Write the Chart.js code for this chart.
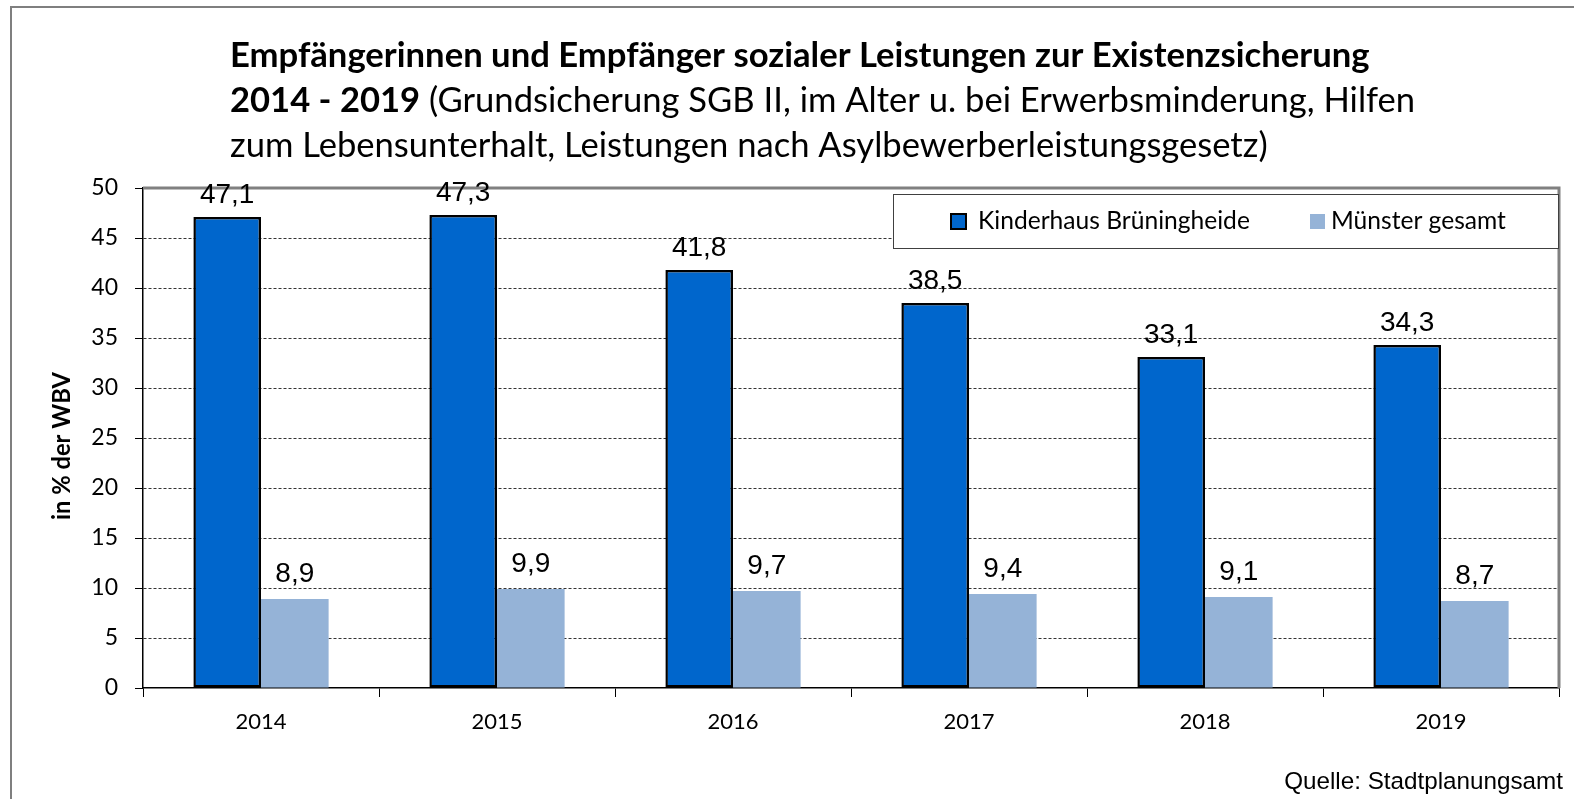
<!DOCTYPE html>
<html>
<head>
<meta charset="utf-8">
<script src="https://cdn.jsdelivr.net/npm/chart.js@4.4.1/dist/chart.umd.min.js"></script>
<style>
  html, body { margin: 0; padding: 0; background: #fff; }
  canvas { display: block; }
</style>
</head>
<body>
<canvas id="chart" width="1574" height="799"></canvas>
<script>
// data
const years = ['2014', '2015', '2016', '2017', '2018', '2019'];
const kinderhaus = [47.1, 47.3, 41.8, 38.5, 33.1, 34.3];
const muenster = [8.9, 9.9, 9.7, 9.4, 9.1, 8.7];
const seriesNames = ['Kinderhaus Brüningheide', 'Münster gesamt'];
const titleLine1 = 'Empfängerinnen und Empfänger sozialer Leistungen zur Existenzsicherung';
const titleLine2Bold = '2014 - 2019';
const titleLine2 = ' (Grundsicherung SGB II, im Alter u. bei Erwerbsminderung, Hilfen';
const titleLine3 = 'zum Lebensunterhalt, Leistungen nach Asylbewerberleistungsgesetz)';
const yTitle = 'in % der WBV';
const source = 'Quelle: Stadtplanungsamt';

const CAL = 'Lato, "Open Sans", sans-serif';
const ARIAL = '"Liberation Sans", Arial, sans-serif';

function fitSize(ctx, text, weight, family, width) {
  ctx.font = weight + ' 100px ' + family;
  return 100 * width / ctx.measureText(text).width;
}

var deco = {
  id: 'deco',
  beforeDraw: function(chart) {
    var ctx = chart.ctx;
    ctx.save();
    ctx.fillStyle = '#fff';
    ctx.fillRect(0, 0, chart.width, chart.height);
    // outer frame (only top and left visible)
    ctx.strokeStyle = '#7f7f7f';
    ctx.lineWidth = 2;
    ctx.beginPath();
    ctx.moveTo(1574, 7); ctx.lineTo(11, 7); ctx.lineTo(11, 799);
    ctx.stroke();

    // title
    ctx.fillStyle = '#000';
    ctx.textBaseline = 'alphabetic';
    ctx.textAlign = 'left';
    var s1 = fitSize(ctx, titleLine1, 'bold', CAL, 1140);
    ctx.font = 'bold ' + s1 + 'px ' + CAL;
    ctx.fillText(titleLine1, 230, 67);
    var s3 = fitSize(ctx, titleLine3, 'normal', CAL, 1038);
    ctx.font = 'bold ' + s3 + 'px ' + CAL;
    ctx.fillText(titleLine2Bold, 230, 112);
    var w = ctx.measureText(titleLine2Bold).width;
    ctx.font = 'normal ' + s3 + 'px ' + CAL;
    ctx.fillText(titleLine2, 230 + w, 112);
    ctx.fillText(titleLine3, 230, 157);

    // y axis title
    ctx.save();
    ctx.translate(62, 446);
    ctx.rotate(-Math.PI / 2);
    ctx.textAlign = 'center';
    ctx.textBaseline = 'middle';
    ctx.font = 'bold ' + fitSize(ctx, yTitle, 'bold', CAL, 148) + 'px ' + CAL;
    ctx.fillText(yTitle, 0, 0);
    ctx.restore();

    // source
    ctx.textAlign = 'right';
    ctx.font = fitSize(ctx, source, 'normal', ARIAL, 279) + 'px ' + ARIAL;
    ctx.fillText(source, 1563, 789);
    ctx.restore();
  },
  afterDraw: function(chart) {
    var ctx = chart.ctx, a = chart.chartArea;
    ctx.save();
    // plot area top/right border
    ctx.strokeStyle = '#808080';
    ctx.lineWidth = 3;
    ctx.beginPath();
    ctx.moveTo(a.left, a.top); ctx.lineTo(a.right, a.top); ctx.lineTo(a.right, a.bottom);
    ctx.stroke();

    // value labels
    ctx.fillStyle = '#000';
    ctx.textAlign = 'center';
    ctx.textBaseline = 'alphabetic';
    ctx.font = '28px ' + ARIAL;
    chart.data.datasets.forEach(function(ds, di) {
      chart.getDatasetMeta(di).data.forEach(function(bar, i) {
        var txt = ds.data[i].toFixed(1).replace('.', ',');
        ctx.fillText(txt, bar.x, bar.y - (di === 0 ? 14 : 17));
      });
    });

    // legend
    ctx.fillStyle = '#fff';
    ctx.fillRect(893, 194, 665, 54);
    ctx.strokeStyle = '#404040';
    ctx.lineWidth = 1;
    ctx.strokeRect(893.5, 194.5, 665, 54);
    ctx.fillStyle = '#0066CC';
    ctx.fillRect(951, 214, 15, 15);
    ctx.strokeStyle = '#000';
    ctx.lineWidth = 2;
    ctx.strokeRect(951, 214, 15, 15);
    ctx.fillStyle = '#95B3D7';
    ctx.fillRect(1310, 214, 15, 15);
    ctx.fillStyle = '#000';
    ctx.textAlign = 'left';
    ctx.textBaseline = 'alphabetic';
    var ls = fitSize(ctx, seriesNames[0], 'normal', CAL, 272);
    ctx.font = ls + 'px ' + CAL;
    ctx.fillText(seriesNames[0], 978, 229);
    ctx.fillText(seriesNames[1], 1331, 229);
    ctx.restore();
  }
};

new Chart(document.getElementById('chart'), {
  type: 'bar',
  data: {
    labels: years,
    datasets: [
      { label: seriesNames[0], data: kinderhaus, backgroundColor: '#0066CC',
        borderColor: '#000', borderWidth: 2.5, borderSkipped: false },
      { label: seriesNames[1], data: muenster, backgroundColor: '#95B3D7', borderWidth: 0 }
    ]
  },
  options: {
    responsive: false,
    animation: false,
    devicePixelRatio: 1,
    layout: { padding: { top: 188, right: 15, left: 0, bottom: 0 } },
    datasets: { bar: { categoryPercentage: 0.573, barPercentage: 1.0 } },
    plugins: { legend: { display: false }, title: { display: false }, tooltip: { enabled: false } },
    scales: {
      x: {
        afterFit: function(s) { s.height = 111; },
        grid: { offset: true, drawOnChartArea: false, tickLength: 9, tickColor: '#000', tickWidth: 1 },
        border: { color: '#000', width: 1.5 },
        ticks: { color: '#000', font: { family: CAL, size: 22 }, padding: 12 }
      },
      y: {
        min: 0, max: 50,
        afterFit: function(s) { s.width = 143; },
        grid: {
          color: function(c) { return (c.tick.value === 0 || c.tick.value === 50) ? 'rgba(0,0,0,0)' : '#333'; },
          lineWidth: 1, tickLength: 8, tickColor: '#000', tickBorderDash: [], tickWidth: 1
        },
        border: { color: '#000', width: 1.5, dash: [3, 2] },
        ticks: { stepSize: 5, color: '#000', font: { family: CAL, size: 23 }, padding: 17 }
      }
    }
  },
  plugins: [deco]
});
</script>
</body>
</html>
